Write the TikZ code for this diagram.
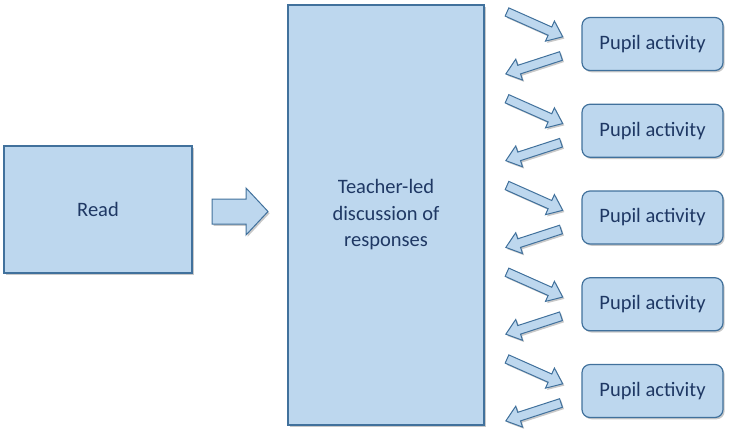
\documentclass[tikz,border=0pt]{standalone}
\usepackage{fontspec}
\setmainfont{Carlito}
\usetikzlibrary{shadows}
\definecolor{boxfill}{HTML}{BDD7EE}
\definecolor{boxline}{HTML}{41719C}
\definecolor{txtcol}{HTML}{1F3864}
\tikzset{
  shad/.style={drop shadow={shadow xshift=1.6pt, shadow yshift=-1.8pt, opacity=0.3, fill=black!70}},
  blk/.style={draw=boxline, fill=boxfill, line width=1.2pt, text=txtcol,
    font=\fontsize{20.5}{26.5}\selectfont, align=center, inner sep=0pt, shad},
  pupil/.style={blk, rounded corners=8pt, minimum width=141pt, minimum height=53pt},
  barrow/.style={draw=boxline, fill=boxfill, line width=1pt, line join=miter, shad},
}
\newcommand\blockarr[7]{% x, y, angle, length, shaft half, head half, head length
  \begin{scope}[shift={(#1,#2)}, rotate=#3]
    \draw[barrow] (0,-#5) -- ({#4-#7},-#5) -- ({#4-#7},-#6) -- (#4,0)
      -- ({#4-#7},#6) -- ({#4-#7},#5) -- (0,#5) -- cycle;
  \end{scope}}
\begin{document}
\begin{tikzpicture}[x=1pt, y=1pt]
  \useasboundingbox (0,0) rectangle (735,-437);
  \node[blk, minimum width=188pt, minimum height=127pt] (read) at (98,-209.5) {Read};
  \node[blk, minimum width=196pt, minimum height=420pt] (teacher) at (386,-215)
    {Teacher-led\\discussion of\\responses};
  % big arrow between read and teacher
  \blockarr{212}{-211.5}{0}{56}{12.5}{23.5}{22}
  \foreach \i in {0,...,4}{
    \pgfmathsetmacro\dy{86.75*\i}
    \node[pupil] (p\i) at (652.5,{-44-\dy}) {Pupil activity};
    \blockarr{507}{-12-\dy}{-24}{61}{4.5}{11}{14}
    \blockarr{561}{-56-\dy}{198}{58}{4.5}{11}{14}
  }
\end{tikzpicture}
\end{document}
